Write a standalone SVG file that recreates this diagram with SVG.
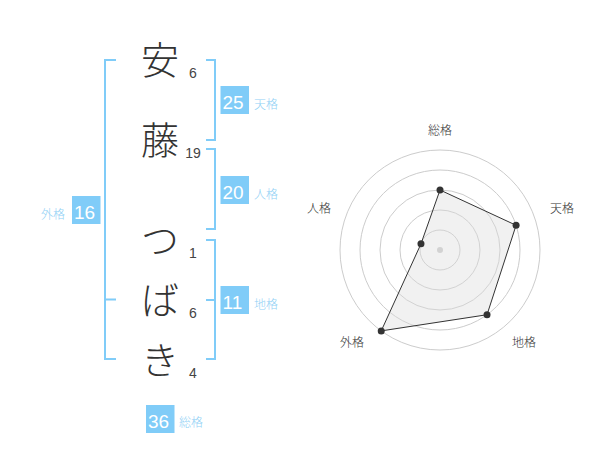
<svg xmlns="http://www.w3.org/2000/svg" width="600" height="470" viewBox="0 0 600 470">
<style>
.br{fill:none;stroke:#80ccf8;stroke-width:2}
.box{fill:#80ccf8}
.num{font-family:"Liberation Sans",Arial,sans-serif;font-size:19px;fill:#fff}
.lbl{font-family:"Noto Sans CJK JP",sans-serif;font-size:12px;font-weight:300;fill:#8fd0f5}
.ch{font-family:"Noto Sans CJK JP",sans-serif;font-size:38px;font-weight:300;fill:#333;text-anchor:middle}
.st{font-family:"Liberation Sans",Arial,sans-serif;font-size:14px;fill:#444;text-anchor:middle}
.ring{fill:none;stroke:#cccccc;stroke-width:1}
.rl{font-family:"Noto Sans CJK JP",sans-serif;font-size:12px;font-weight:300;fill:#333;text-anchor:middle}
.pt{fill:#333}
</style>
<rect width="600" height="470" fill="#fff"/>
<g id="connectors">
<path class="br" d="M116,60 H105 V359 H116 M105,299.5 H116"/>
<path class="br" d="M206,60 H215 V140 H206"/>
<path class="br" d="M206,149 H215 V229 H206"/>
<path class="br" d="M206,240 H215 V359 H206 M206,300 H215"/>
</g>
<g id="char-1"><text class="ch" x="160" y="74">安</text><text class="st" x="193" y="77.5">6</text></g>
<g id="char-2"><text class="ch" x="160" y="154">藤</text><text class="st" x="193" y="158">19</text></g>
<g id="char-3"><text class="ch" x="160" y="254">つ</text><text class="st" x="193" y="258">1</text></g>
<g id="char-4"><text class="ch" x="160" y="314">ば</text><text class="st" x="193" y="318">6</text></g>
<g id="char-5"><text class="ch" x="160" y="374">き</text><text class="st" x="193" y="378">4</text></g>
<g id="tenkaku"><rect class="box" x="220.5" y="86" width="28.5" height="28"/><text class="num" x="222.5" y="108.5">25</text><text class="lbl" x="254" y="109">天格</text></g>
<g id="jinkaku"><rect class="box" x="220.5" y="176" width="28.5" height="28"/><text class="num" x="222.5" y="198.5">20</text><text class="lbl" x="254" y="199">人格</text></g>
<g id="chikaku"><rect class="box" x="220.5" y="286" width="28.5" height="28"/><text class="num" x="222.5" y="308.5">11</text><text class="lbl" x="254" y="309">地格</text></g>
<g id="gaikaku"><rect class="box" x="72" y="196" width="28.5" height="28"/><text class="num" x="74" y="218.5">16</text><text class="lbl" x="41" y="219">外格</text></g>
<g id="soukaku"><rect class="box" x="146" y="405" width="28.5" height="28"/><text class="num" x="148" y="427.5">36</text><text class="lbl" x="179" y="427">総格</text></g>
<g id="radar">
<circle class="ring" cx="440" cy="250" r="20"/>
<circle class="ring" cx="440" cy="250" r="40"/>
<circle class="ring" cx="440" cy="250" r="60"/>
<circle class="ring" cx="440" cy="250" r="80"/>
<circle class="ring" cx="440" cy="250" r="100"/>
<circle cx="440" cy="250" r="3" fill="#cccccc"/>
<polygon points="440,190 516.09,225.28 487.02,314.72 381.22,330.9 420.98,243.82" fill="#dddddd" fill-opacity="0.4" stroke="#333" stroke-width="1"/>
<circle class="pt" cx="440" cy="190" r="3.5"/>
<circle class="pt" cx="516.09" cy="225.28" r="3.5"/>
<circle class="pt" cx="487.02" cy="314.72" r="3.5"/>
<circle class="pt" cx="381.22" cy="330.9" r="3.5"/>
<circle class="pt" cx="420.98" cy="243.82" r="3.5"/>
<text class="rl" x="440" y="135">総格</text>
<text class="rl" x="562" y="213">天格</text>
<text class="rl" x="319" y="213">人格</text>
<text class="rl" x="352" y="347">外格</text>
<text class="rl" x="524" y="347">地格</text>
</g>
</svg>
